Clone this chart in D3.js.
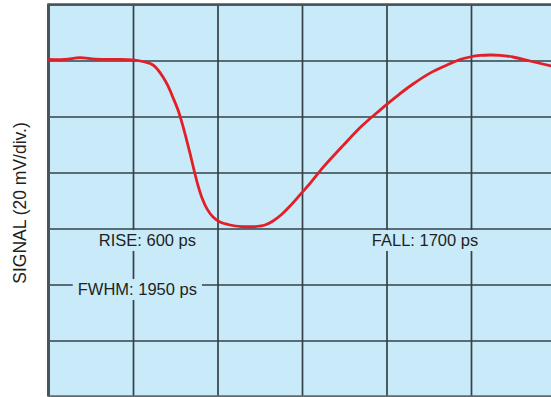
<!DOCTYPE html>
<html>
<head>
<meta charset="utf-8">
<script src="https://cdn.jsdelivr.net/npm/d3@7"></script>
<style>
  html, body { margin: 0; padding: 0; background: #ffffff; }
  svg { display: block; font-family: "Liberation Sans", Arial, Helvetica, sans-serif; }
</style>
</head>
<body>
<svg id="chart" width="551" height="397"></svg>
<script>
// Time axis in ns (1 ns/div), signal in mV (20 mV/div), 0 mV = pulse baseline
const timeTicks = [0, 1, 2, 3, 4, 5, 6];
const signalTicks = [20, 0, -20, -40, -60, -80, -100, -120];

const timeNs = [0.0, 0.195, 0.373, 0.55, 0.787, 1.0, 1.142, 1.237, 1.296, 1.355, 1.414, 1.473, 1.533,
  1.58, 1.627, 1.675, 1.722, 1.769, 1.817, 1.876, 1.947, 2.03, 2.148, 2.29, 2.444, 2.562, 2.657,
  2.751, 2.858, 2.976, 3.095, 3.249, 3.485, 3.686, 3.923, 4.124, 4.314, 4.515, 4.716, 4.87, 4.988,
  5.107, 5.225, 5.343, 5.497, 5.698, 5.947, 6.0];
const signalMv = [0.36, 0.43, 1.0, 0.46, 0.43, 0.25, -0.54, -1.6, -3.4, -5.9, -9.1, -13.2, -17.7,
  -22.3, -27.5, -33.2, -39.1, -44.6, -49.1, -53.0, -55.9, -57.7, -58.75, -59.3, -59.3, -58.75, -57.3,
  -55.2, -52.0, -48.0, -43.9, -38.2, -30.4, -24.0, -17.7, -12.7, -8.4, -4.5, -1.6, 0.36, 1.25,
  1.8, 1.96, 1.86, 1.25, -0.18, -1.96, -2.3];

const yAxisTitle = "SIGNAL (20 mV/div.)";
const labelTexts = ["RISE: 600 ps", "FWHM: 1950 ps", "FALL: 1700 ps"];

const svg = d3.select("#chart");
const plotLeft = 48.5, plotTop = 4.5, divW = 84.5, divH = 56;
const plotW = divW * (timeTicks.length - 1);
const plotH = divH * (signalTicks.length - 1);

const x = d3.scaleLinear().domain([0, 6]).range([plotLeft, plotLeft + plotW]);
const y = d3.scaleLinear().domain([20, -120]).range([plotTop, plotTop + plotH]);

const bg = "#c8eaf9";
const gridColor = "#344147";

// screen background
svg.append("rect")
  .attr("x", x(0)).attr("y", y(20))
  .attr("width", plotW).attr("height", plotH)
  .attr("fill", bg);

// graticule from the axes
const gx = svg.append("g")
  .attr("transform", `translate(0,${plotTop})`)
  .call(d3.axisBottom(x).tickValues(timeTicks).tickSize(plotH).tickSizeOuter(0).tickFormat(""));
gx.select(".domain").remove();
gx.selectAll("line").attr("stroke", gridColor).attr("stroke-width", 1.7);

const gy = svg.append("g")
  .attr("transform", `translate(${plotLeft},0)`)
  .call(d3.axisRight(y).tickValues(signalTicks).tickSize(plotW).tickSizeOuter(0).tickFormat(""));
gy.select(".domain").remove();
gy.selectAll("line").attr("stroke", gridColor).attr("stroke-width", 1.7);

// heavier frame edges
svg.append("line")
  .attr("x1", x(0)).attr("x2", x(0)).attr("y1", y(20) - 1).attr("y2", y(-120))
  .attr("stroke", "#4a5559").attr("stroke-width", 3);
svg.append("line")
  .attr("x1", x(0)).attr("x2", x(6)).attr("y1", y(20)).attr("y2", y(20))
  .attr("stroke", "#4a5559").attr("stroke-width", 2.4);
svg.append("line")
  .attr("x1", x(0)).attr("x2", x(6)).attr("y1", y(-120) - 0.5).attr("y2", y(-120) - 0.5)
  .attr("stroke", "#5d6a70").attr("stroke-width", 1.5);

// annotation labels, each on a knocked-out patch of the screen
const labelPos = [
  { t: 1.746, base: 246, anchor: "end" },
  { t: 1.757, base: 295, anchor: "end" },
  { t: 4.456, base: 246, anchor: "middle" }
];
labelTexts.forEach((txt, i) => {
  const p = labelPos[i];
  const g = svg.append("g");
  const rect = g.append("rect").attr("fill", bg);
  const text = g.append("text")
    .attr("x", x(p.t)).attr("y", p.base)
    .attr("text-anchor", p.anchor)
    .attr("font-size", "16.5px")
    .attr("fill", "#231f20")
    .text(txt);
  const b = text.node().getBBox();
  rect.attr("x", b.x - 5).attr("y", b.y - 1)
    .attr("width", b.width + 10).attr("height", b.height + 3);
});

// pulse trace
const pts = timeNs.map((t, i) => [t, signalMv[i]]);
svg.append("path")
  .datum(pts)
  .attr("fill", "none")
  .attr("stroke", "#e41e26")
  .attr("stroke-width", 2.8)
  .attr("stroke-linejoin", "round")
  .attr("d", d3.line().x(d => x(d[0])).y(d => y(d[1])).curve(d3.curveCatmullRom.alpha(0.5)));

// vertical axis title
svg.append("text")
  .attr("transform", `translate(26,203) rotate(-90)`)
  .attr("text-anchor", "middle")
  .attr("font-size", "17.5px")
  .attr("fill", "#231f20")
  .text(yAxisTitle);
</script>
</body>
</html>
